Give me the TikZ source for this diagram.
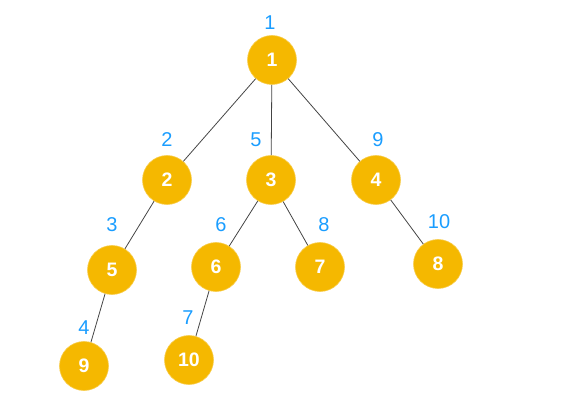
\documentclass[tikz,border=0pt]{standalone}
\usepackage{fontspec}
\setmainfont{Liberation Sans}
\definecolor{nodefill}{HTML}{F5B800}
\definecolor{labblue}{HTML}{1A9DFF}
\definecolor{edgegray}{HTML}{444444}
\begin{document}
\begin{tikzpicture}[x=1pt,y=-1pt,
  tn/.style={circle,fill=nodefill,draw=nodefill!70!white,line width=0.6pt,minimum size=49pt,inner sep=0pt,text=white,font=\fontsize{19.5}{19.5}\selectfont\bfseries},
  lab/.style={text=labblue,font=\fontsize{20}{20}\selectfont,inner sep=0pt},
  edge/.style={draw=edgegray,line width=0.8pt}]
\useasboundingbox (0,0) rectangle (562,403);
\node[tn] (n1) at (272,60) {1};
\node[tn] (n2) at (167,180) {2};
\node[tn] (n3) at (271,180) {3};
\node[tn] (n4) at (376,180) {4};
\node[tn] (n5) at (112,270) {5};
\node[tn] (n6) at (216,267) {6};
\node[tn] (n7) at (320,267) {7};
\node[tn] (n8) at (438,264) {8};
\node[tn] (n9) at (84,366) {9};
\node[tn] (n10) at (189,360) {10};
\draw[edge] (n1) -- (n2);
\draw[edge] (n1) -- (n3);
\draw[edge] (n1) -- (n4);
\draw[edge] (n2) -- (n5);
\draw[edge] (n3) -- (n6);
\draw[edge] (n3) -- (n7);
\draw[edge] (n4) -- (n8);
\draw[edge] (n5) -- (n9);
\draw[edge] (n6) -- (n10);
\node[lab] (l1) at (270,23) {1};
\node[lab] (l2) at (167,140) {2};
\node[lab] (l5) at (256,140) {5};
\node[lab] (l9) at (378,140) {9};
\node[lab] (l3) at (112,225) {3};
\node[lab] (l6) at (221,225) {6};
\node[lab] (l8) at (324,225) {8};
\node[lab] (l10) at (439,222) {10};
\node[lab] (l4) at (84,328) {4};
\node[lab] (l7) at (188,318) {7};
\end{tikzpicture}
\end{document}
